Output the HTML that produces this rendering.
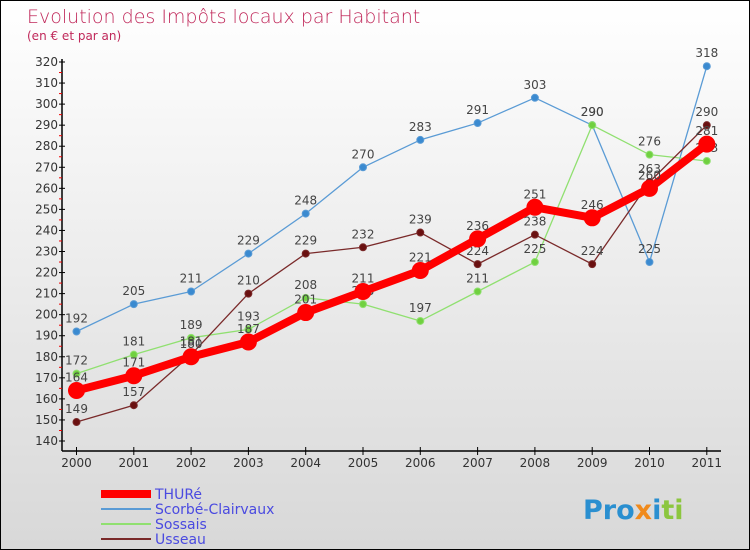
<!DOCTYPE html>
<html><head><meta charset="utf-8"><style>
body{margin:0;}
#c{width:748px;height:548px;border:1px solid #000;position:relative;background:linear-gradient(#fff,#d8d8d8);font-family:"DejaVu Sans","Liberation Sans",sans-serif;overflow:hidden}
</style></head><body>
<div id="c">
<svg id="s" width="748" height="548" xmlns="http://www.w3.org/2000/svg">
<text x="26" y="22" font-size="19" fill="#c0285a" font-family="DejaVu Sans, sans-serif" font-weight="200">Evolution des Impôts locaux par Habitant</text>
<text x="26" y="39" font-size="12" fill="#c0285a">(en € et par an)</text>
<g id="axes"></g><g id="series"></g><g id="legend"></g>
<text x="582" y="518" font-size="27" font-weight="bold"><tspan fill="#2a8fd0">Pro</tspan><tspan fill="#f08a1c">x</tspan><tspan fill="#2a8fd0">i</tspan><tspan fill="#8cc63f">ti</tspan></text>
</svg></div>
<script>
const years=["2000","2001","2002","2003","2004","2005","2006","2007","2008","2009","2010","2011"];
const yTicks=[140,150,160,170,180,190,200,210,220,230,240,250,260,270,280,290,300,310,320];
const thure=[164,171,180,187,201,211,221,236,251,246,260,281];
const scorbe=[192,205,211,229,248,270,283,291,303,290,225,318];
const sossais=[172,181,189,193,208,205,197,211,225,290,276,273];
const usseau=[149,157,181,210,229,232,239,224,238,224,263,290];
const NS="http://www.w3.org/2000/svg";
const X=i=>75.5+i*57.3;
const Y=v=>440-(v-140)*(379/180);
function mk(t,a,p){const e=document.createElementNS(NS,t);for(const k in a)e.setAttribute(k,a[k]);p.appendChild(e);return e;}
const ax=document.getElementById('axes');
let yl=mk('line',{x1:61,y1:58,x2:61,y2:450,stroke:'#000','stroke-width':1.5},ax);


let xl=mk('line',{x1:61,y1:450,x2:720,y2:450,stroke:'#000','stroke-width':1.5},ax);


yTicks.forEach(v=>{
  mk('line',{x1:58,x2:64,y1:Y(v),y2:Y(v),stroke:'#000'},ax);
  if(v<320) mk('line',{x1:58,x2:61,y1:Y(v+5),y2:Y(v+5),stroke:'#e00'},ax);
  const t=mk('text',{x:57,y:Y(v)+4,'font-size':12,'text-anchor':'end',fill:'#333'},ax);t.textContent=v;
  
  
});
years.forEach((y,i)=>{
  mk('line',{x1:X(i),x2:X(i),y1:446,y2:454,stroke:'#000'},ax);
  const t=mk('text',{x:X(i),y:466,'font-size':12,'text-anchor':'middle',fill:'#333'},ax);t.textContent=y;
  
  
});
const sg=document.getElementById('series');
function draw(data,color,w,r,name,dot){
  const g=mk('g',{},sg);
  
  
  mk('polyline',{points:data.map((v,i)=>X(i)+','+Y(v)).join(' '),fill:'none',stroke:color,'stroke-width':w,'stroke-linejoin':'round'},g);
  data.forEach((v,i)=>{
    const c=mk('circle',{cx:X(i),cy:Y(v),r:r,fill:dot,stroke:color,'stroke-width':1},g);
    
    
    const t=mk('text',{x:X(i),y:Y(v)-9,'font-size':12,'text-anchor':'middle',fill:'#444'},g);t.textContent=v;
    
    
  });
}
draw(scorbe,'#5a9bd5',1.3,3.5,'scorbe','#3a8ad0');
draw(sossais,'#90e070',1.3,3.5,'sossais','#70d040');
draw(usseau,'#7a2a2a',1.3,3.5,'usseau','#6a1010');
draw(thure,'#ff0000',8,8,'thure','#ff0000');
const lg=document.getElementById('legend');
[['THURé','#ff0000',8],['Scorbé-Clairvaux','#5a9bd5',2],['Sossais','#90e070',2],['Usseau','#7a2a2a',2]].forEach((d,i)=>{
  const y=493+i*15;
  const l=mk('line',{x1:100,x2:150,y1:y,y2:y,stroke:d[1],'stroke-width':d[2]},lg);
  
  
  const t=mk('text',{x:154,y:y+5,'font-size':14,fill:'#4a4ae0'},lg);t.textContent=d[0];
  
  
});
</script>
</body></html>
